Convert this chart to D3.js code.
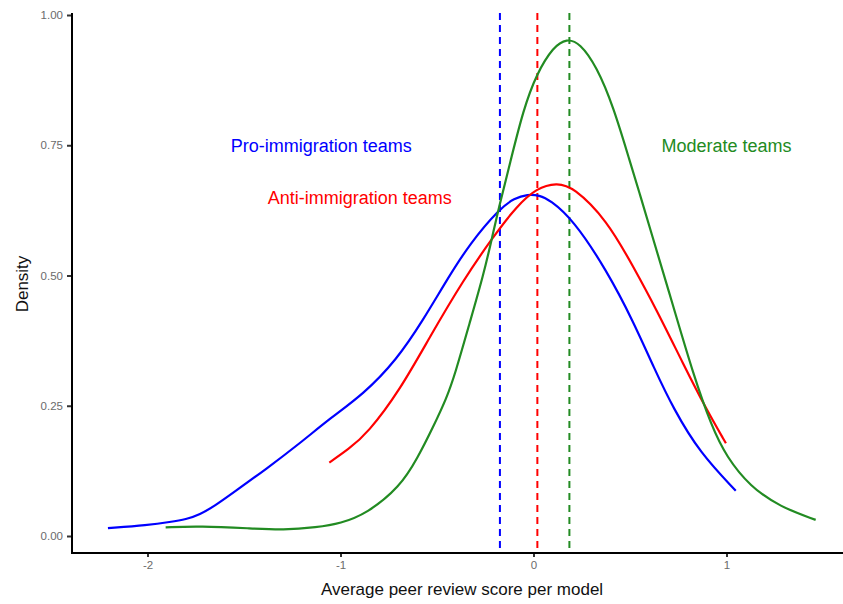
<!DOCTYPE html>
<html>
<head>
<meta charset="utf-8">
<script src="https://cdn.jsdelivr.net/npm/d3@7"></script>
<style>
  html, body { margin: 0; padding: 0; background: #fff; }
  svg { display: block; font-family: "Liberation Sans", Arial, sans-serif; }
</style>
</head>
<body>
<svg id="chart" width="843" height="604"></svg>
<script>
// ---- Data ----
const proX = [-2.205, -2.0, -1.88, -1.8, -1.73, -1.65, -1.56, -1.38, -1.21, -1.054, -0.882, -0.709, -0.571, -0.45, -0.329, -0.174, -0.1, -0.03, 0.03, 0.085, 0.206, 0.379, 0.517, 0.625, 0.724, 0.863, 1.048];
const proY = [0.015, 0.021, 0.027, 0.032, 0.041, 0.058, 0.082, 0.130, 0.178, 0.226, 0.272, 0.338, 0.415, 0.491, 0.562, 0.629, 0.648, 0.656, 0.654, 0.645, 0.607, 0.510, 0.412, 0.322, 0.245, 0.159, 0.087];

const antiX = [-1.058, -0.96, -0.86, -0.692, -0.536, -0.364, -0.208, -0.087, 0.017, 0.12, 0.206, 0.379, 0.517, 0.638, 0.776, 0.897, 0.997];
const antiY = [0.141, 0.166, 0.197, 0.280, 0.383, 0.491, 0.575, 0.633, 0.668, 0.678, 0.670, 0.607, 0.517, 0.434, 0.330, 0.242, 0.178];

const modX = [-1.906, -1.728, -1.469, -1.296, -1.123, -1.0, -0.864, -0.692, -0.6, -0.519, -0.45, -0.407, -0.33, -0.26, -0.213, -0.18, -0.122, -0.053, 0.017, 0.103, 0.172, 0.241, 0.327, 0.414, 0.5, 0.552, 0.604, 0.725, 0.828, 0.923, 1.0, 1.122, 1.277, 1.462];
const modY = [0.0167, 0.019, 0.0147, 0.0115, 0.0167, 0.024, 0.043, 0.094, 0.150, 0.210, 0.265, 0.310, 0.410, 0.500, 0.575, 0.630, 0.715, 0.818, 0.888, 0.939, 0.955, 0.946, 0.901, 0.824, 0.718, 0.655, 0.590, 0.440, 0.310, 0.210, 0.152, 0.095, 0.056, 0.031];

const groupNames = ["Pro-immigration teams", "Anti-immigration teams", "Moderate teams"];
const groupColors = ["#0000FF", "#FF0000", "#228B22"];
const groupMeans = [-0.174, 0.02, 0.186];
const labelX = [-1.1, -0.9, 1.0];
const labelY = [0.75, 0.65, 0.75];

const xTicks = [-2, -1, 0, 1];
const yTicks = [0, 0.25, 0.5, 0.75, 1.0];
const xTitle = "Average peer review score per model";
const yTitle = "Density";

// ---- Layout ----
const svg = d3.select("#chart");
const panel = { left: 72, right: 843, top: 13, bottom: 553 };

const x = d3.scaleLinear().domain([-2, 1]).range([147.5, 726.5]);
const y = d3.scaleLinear().domain([0, 1]).range([536, 15]);

const series = [
  { xs: proX, ys: proY },
  { xs: antiX, ys: antiY },
  { xs: modX, ys: modY }
];

// dashed mean lines
svg.append("g").selectAll("line")
  .data(groupMeans)
  .join("line")
  .attr("x1", d => x(d)).attr("x2", d => x(d))
  .attr("y1", panel.top).attr("y2", panel.bottom)
  .attr("stroke", (d, i) => groupColors[i])
  .attr("stroke-width", 2)
  .attr("stroke-dasharray", "7,5");

// density curves
const line = d3.line()
  .x(d => x(d[0]))
  .y(d => y(d[1]))
  .curve(d3.curveBasis);

svg.append("g").selectAll("path")
  .data(series)
  .join("path")
  .attr("d", s => line(s.xs.map((v, i) => [v, s.ys[i]])))
  .attr("fill", "none")
  .attr("stroke", (d, i) => groupColors[i])
  .attr("stroke-width", 2.2)
  .attr("stroke-linecap", "butt");

// labels
svg.append("g").selectAll("text")
  .data(groupNames)
  .join("text")
  .attr("x", (d, i) => x(labelX[i]))
  .attr("y", (d, i) => y(labelY[i]))
  .attr("dy", "0.35em")
  .attr("text-anchor", "middle")
  .attr("font-size", 18)
  .attr("fill", (d, i) => groupColors[i])
  .text(d => d);

// axes
const hyphen = d => (d < 0 ? "-" + Math.abs(d) : String(d));
const xAxis = d3.axisBottom(x).tickValues(xTicks).tickFormat(hyphen).tickSize(4).tickPadding(4);
const yAxis = d3.axisLeft(y).tickValues(yTicks).tickFormat(d3.format(".2f")).tickSize(5).tickPadding(4);

const gx = svg.append("g").attr("transform", `translate(0,${panel.bottom})`).call(xAxis);
const gy = svg.append("g").attr("transform", `translate(${panel.left},0)`).call(yAxis);

[gx, gy].forEach(g => {
  g.select(".domain").remove();
  g.selectAll(".tick line").attr("stroke", "#333").attr("stroke-width", 2);
  g.selectAll(".tick text").attr("fill", "#6b6b6b").attr("font-size", 11.5)
    .attr("font-family", "'Liberation Sans', Arial, sans-serif");
});

// axis lines
svg.append("line")
  .attr("x1", panel.left).attr("x2", panel.left)
  .attr("y1", panel.top).attr("y2", panel.bottom + 1)
  .attr("stroke", "#000").attr("stroke-width", 2);
svg.append("line")
  .attr("x1", panel.left - 1).attr("x2", panel.right)
  .attr("y1", panel.bottom).attr("y2", panel.bottom)
  .attr("stroke", "#000").attr("stroke-width", 2);

// titles
svg.append("text")
  .attr("x", 462).attr("y", 595)
  .attr("text-anchor", "middle")
  .attr("font-size", 17)
  .attr("fill", "#111")
  .text(xTitle);

svg.append("text")
  .attr("transform", "translate(28,284) rotate(-90)")
  .attr("text-anchor", "middle")
  .attr("font-size", 17)
  .attr("fill", "#111")
  .text(yTitle);
</script>
</body>
</html>
